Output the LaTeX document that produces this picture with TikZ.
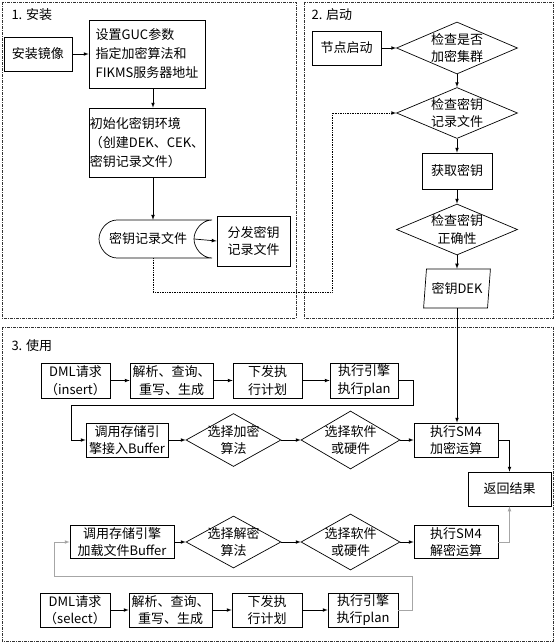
\documentclass[tikz,border=0pt]{standalone}
\usepackage{fontspec}
\setmainfont{Noto Sans CJK SC}
\usetikzlibrary{arrows,positioning,shapes,shapes.geometric,calc}

\begin{document}
\begin{tikzpicture}[x=1pt, y=-1pt,
    font=\fontsize{13}{17.5}\selectfont,
    box/.style={draw, rectangle, line width=0.7pt, inner sep=0.5pt, align=center},
    dia/.style={draw, diamond, line width=0.7pt, inner sep=-10pt, align=center},
    io/.style={draw, trapezium, trapezium left angle=80, trapezium right angle=100,
      trapezium stretches=true, line width=0.7pt, inner sep=1pt},
    part/.style={draw=black!80, line width=0.6pt, dash pattern=on 3pt off 1pt on 1pt off 1pt},
    link/.style={draw, line width=0.7pt, -latex},
    back/.style={link, draw=black!35}]
        \useasboundingbox (0,0) rectangle (555,642);
        %parts
        \path[part] (2,2) rectangle (296,318);
        \path[part] (304,2) rectangle (553,318);
        \path[part] (2,327) rectangle (553,641);
        \node[anchor=west] (t1) at (8,15) {1. 安装};
        \node[anchor=west] (t2) at (308,15) {2. 启动};
        \node[anchor=west] (t3) at (8,346) {3. 使用};
        %nodes: install
        \node[box, minimum width=68, minimum height=34] (img) at (38,54) {安装镜像};
        \node[box, align=left, font=\fontsize{13}{19}\selectfont, minimum width=116, minimum height=68] (guc) at (147,54) {设置GUC参数\\指定加密算法和\\FIKMS服务器地址};
        \node[box, align=left, font=\fontsize{13}{19}\selectfont, minimum width=116, minimum height=69] (init) at (147,142.5) {初始化密钥环境\\（创建DEK、CEK、\\密钥记录文件）};
        \node[minimum width=92, minimum height=38] (rec) at (148,239) {密钥记录文件};
        \path[draw, line width=0.7pt] (212,220) -- (117,220) .. controls (107,220) and (99,230) .. (99,239)
            .. controls (99,248) and (107,258) .. (117,258) -- (212,258)
            .. controls (202,258) and (194,248) .. (194,239) .. controls (194,230) and (202,220) .. (212,220);
        \node[box, minimum width=73, minimum height=50] (dist) at (253.5,241) {分发密钥\\记录文件};
        %nodes: start
        \node[box, minimum width=69, minimum height=34] (boot) at (346.5,48) {节点启动};
        \node[dia, minimum width=121, minimum height=52] (chk1) at (457,48) {检查是否\\加密集群};
        \node[dia, minimum width=121, minimum height=51] (chk2) at (457,113) {检查密钥\\记录文件};
        \node[box, minimum width=70, minimum height=36] (get) at (457,171) {获取密钥};
        \node[dia, minimum width=121, minimum height=51] (chk3) at (457,229.5) {检查密钥\\正确性};
        \node[io, minimum width=67, minimum height=39] (dek) at (457,288.5) {密钥DEK};
        %nodes: use, insert
        \node[box, minimum width=69, minimum height=35] (ins) at (75.5,380.5) {DML请求\\（insert）};
        \node[box, minimum width=83, minimum height=35] (parse1) at (171.5,380.5) {解析、查询、\\重写、生成};
        \node[box, minimum width=69, minimum height=35] (plan1) at (267.5,380.5) {下发执\\行计划};
        \node[box, minimum width=68, minimum height=35] (exec1) at (364,380.5) {执行引擎\\执行plan};
        \node[box, minimum width=82, minimum height=34] (buf1) at (127,440) {调用存储引\\擎接入Buffer};
        \node[dia, minimum width=95, minimum height=53] (alg1) at (233.5,440) {选择加密\\算法};
        \node[dia, minimum width=99, minimum height=58] (hw1) at (350.5,440) {选择软件\\或硬件};
        \node[box, minimum width=84, minimum height=34] (enc) at (456,440) {执行SM4\\加密运算};
        \node[box, minimum width=83, minimum height=34] (ret) at (509.5,489) {返回结果};
        %nodes: use, select
        \node[box, minimum width=104, minimum height=33] (buf2) at (122,542) {调用存储引擎\\加载文件Buffer};
        \node[dia, minimum width=95, minimum height=52] (alg2) at (233.5,542) {选择解密\\算法};
        \node[dia, minimum width=99, minimum height=56] (hw2) at (350.5,542) {选择软件\\或硬件};
        \node[box, minimum width=84, minimum height=33] (dec) at (456,542) {执行SM4\\解密运算};
        \node[box, minimum width=70, minimum height=34] (sel) at (75,610) {DML请求\\（select）};
        \node[box, minimum width=83, minimum height=34] (parse2) at (170.5,610) {解析、查询、\\重写、生成};
        \node[box, minimum width=70, minimum height=34] (plan2) at (267,610) {下发执\\行计划};
        \node[box, minimum width=70, minimum height=34] (exec2) at (363,610) {执行引擎\\执行plan};
        \coordinate (d1) at (332,292);
        \coordinate (r1) at (413,405);
        \coordinate (r2) at (71,405);
        \coordinate (s1) at (412,576);
        \coordinate (s2) at (54,576);
        %edges
        \path[link] (img) -- (guc);
        \path[link] ([xshift=6]guc.south) -- ([xshift=6]init.north);
        \path[link] ([xshift=6]init.south) -- ([xshift=6]init.south |- rec.north);
        \path[link] (rec.east) -- (dist.west);
        \path[link, densely dotted] ([xshift=6]init.south |- rec.south) |- (d1) |- (chk2.west);
        \path[link] (boot) -- (chk1);
        \path[link] (chk1) -- (chk2);
        \path[link] (chk2) -- (get);
        \path[link] (get) -- (chk3);
        \path[link] (chk3) -- (dek);
        \path[link] (dek.south) -- (dek.south |- enc.north);
        \path[link] (ins) -- (parse1);
        \path[link] (parse1) -- (plan1);
        \path[link] (plan1) -- (exec1);
        \path[link] (exec1.east) -| (r1) -- (r2) |- (buf1.west);
        \path[link] (buf1) -- (alg1);
        \path[link] (alg1) -- (hw1);
        \path[link] (hw1) -- (enc);
        \path[link] (enc.east) -| (ret.north);
        \path[link] (sel) -- (parse2);
        \path[link] (parse2) -- (plan2);
        \path[link] (plan2) -- (exec2);
        \path[back] (exec2.east) -| (s1) -- (s2) |- (buf2.west);
        \path[link] (buf2) -- (alg2);
        \path[link] (alg2) -- (hw2);
        \path[link] (hw2) -- (dec);
        \path[back] (dec.east) -| (ret.south);
\end{tikzpicture}
\end{document}
